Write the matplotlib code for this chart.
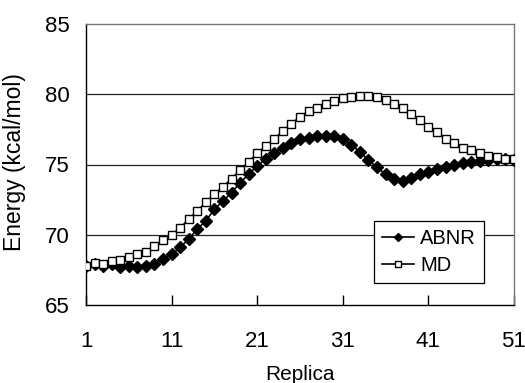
import matplotlib
matplotlib.use("Agg")
import matplotlib.pyplot as plt

replicas = list(range(1, 52))
abnr = [67.8, 67.9, 67.8, 67.9, 67.7, 67.75, 67.7, 67.8, 67.95, 68.25,
        68.6, 69.1, 69.7, 70.4, 71.0, 71.8, 72.4, 73.0, 73.7, 74.3,
        74.9, 75.4, 75.8, 76.2, 76.5, 76.8, 76.9, 77.0, 77.05, 77.0,
        76.8, 76.4, 75.9, 75.3, 74.8, 74.3, 74.0, 73.8, 74.05, 74.3,
        74.5, 74.7, 74.8, 75.0, 75.1, 75.2, 75.25, 75.35, 75.4, 75.4,
        75.35]
md = [67.8, 68.0, 67.9, 68.1, 68.2, 68.45, 68.6, 68.8, 69.2, 69.6,
      70.0, 70.5, 71.1, 71.7, 72.3, 72.9, 73.4, 74.0, 74.6, 75.2,
      75.8, 76.3, 76.8, 77.4, 77.9, 78.4, 78.8, 79.0, 79.3, 79.55,
      79.75, 79.8, 79.9, 79.9, 79.8, 79.6, 79.3, 79.0, 78.6, 78.2,
      77.7, 77.3, 76.8, 76.5, 76.2, 76.0, 75.8, 75.6, 75.5, 75.4,
      75.4]
xticks = [1, 11, 21, 31, 41, 51]
yticks = [65, 70, 75, 80, 85]

plt.rcParams['font.family'] = ['Liberation Sans', 'DejaVu Sans']

fig = plt.figure(figsize=(5.25, 3.83), dpi=100)
ax = fig.add_axes([86/525, 78/383, 428/525, 281/383])

for y in [70, 75, 80]:
    ax.axhline(y, color='#222222', lw=0.9, zorder=1)

ax.plot(replicas, abnr, color='black', lw=1.2, marker='D', markersize=6,
        markerfacecolor='black', markeredgecolor='black', label='ABNR', zorder=3)
ax.plot(replicas, md, color='black', lw=1.2, marker='s', markersize=5.5,
        markerfacecolor='white', markeredgecolor='black', markeredgewidth=1.0,
        label='MD', zorder=3)

ax.set_xlim(1, 51)
ax.set_ylim(65, 85)
ax.set_xticks(xticks)
ax.set_yticks(yticks)
ax.tick_params(axis='x', direction='in', length=7, width=1, pad=19, labelsize=16)
ax.tick_params(axis='y', length=0, pad=12, labelsize=16)

for s in ['top', 'right']:
    ax.spines[s].set_color('#777777')
    ax.spines[s].set_linestyle((0, (1, 1)))
    ax.spines[s].set_linewidth(1.0)
for s in ['left', 'bottom']:
    ax.spines[s].set_color('black')
    ax.spines[s].set_linewidth(1.0)

ax.set_xlabel('Replica', fontsize=15)
ax.set_ylabel('Energy (kcal/mol)', fontsize=16.5)
ax.xaxis.set_label_coords(0.5, -0.215)
ax.yaxis.set_label_coords(-0.14, 0.51)

leg = ax.legend(loc='lower left', bbox_to_anchor=(0.672, 0.078), fontsize=14.5,
                frameon=True, fancybox=False, edgecolor='black', framealpha=1,
                handlelength=1.6, handletextpad=0.3, borderpad=0.4,
                labelspacing=0.4, borderaxespad=0, markerscale=0.75)
leg.get_frame().set_linewidth(0.9)
leg.set_zorder(5)

fig.savefig('out.png', dpi=100)
